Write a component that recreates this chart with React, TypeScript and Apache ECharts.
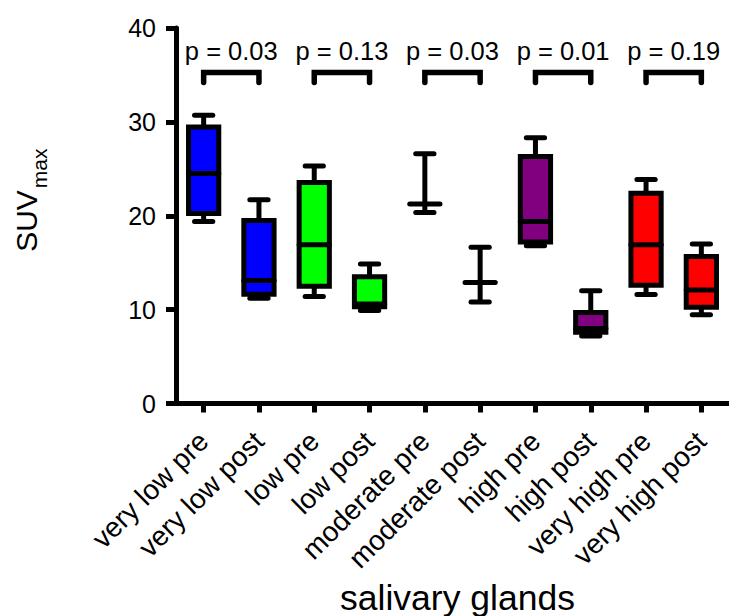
import React, { useEffect, useRef } from "react";
import * as echarts from "echarts";

const categories = [
  "very low pre", "very low post", "low pre", "low post", "moderate pre",
  "moderate post", "high pre", "high post", "very high pre", "very high post",
];
const mins = [19.4, 11.2, 11.4, 9.9, 20.35, 10.8, 16.8, 7.2, 11.6, 9.45];
const q1s = [20.25, 11.65, 12.5, 10.3, 21.25, 12.9, 17.2, 7.6, 12.6, 10.25];
const medians = [24.5, 13.1, 16.9, 10.6, 21.25, 12.9, 19.4, 8.0, 16.9, 12.1];
const q3s = [29.45, 19.5, 23.55, 13.5, 21.25, 12.9, 26.3, 9.7, 22.4, 15.65];
const maxs = [30.7, 21.7, 25.3, 14.85, 26.6, 16.65, 28.3, 12.0, 23.85, 17.0];
const boxColors = [
  "#0000ff", "#0000ff", "#00ff00", "#00ff00", "#800080",
  "#800080", "#800080", "#800080", "#ff0000", "#ff0000",
];

const pairStarts = [0, 2, 4, 6, 8];
const pairEnds = [1, 3, 5, 7, 9];
const pLabels = ["p = 0.03", "p = 0.13", "p = 0.03", "p = 0.01", "p = 0.19"];
const bracketTop = 35.25;
const bracketLeg = 34.2;
const pTextY = 37.6;

const yTicks = [0, 10, 20, 30, 40];

const FONT = "'Liberation Sans', Arial, Helvetica, sans-serif";

export default function App() {
  const ref = useRef<HTMLDivElement>(null);
  useEffect(() => {
    if (!ref.current) return;
    const chart = echarts.init(ref.current, undefined, { renderer: "svg" });

    const boxData = categories.map((_, i) => [i, mins[i], q1s[i], medians[i], q3s[i], maxs[i]]);
    const bracketData = pairStarts.map((s, i) => [s, pairEnds[i], bracketTop, bracketLeg, pTextY, i]);

    const option: any = {
      animation: false,
      backgroundColor: "#ffffff",
      grid: { left: 176, top: 28, width: 566.7, height: 375.5 },
      xAxis: {
        type: "category",
        data: categories,
        boundaryGap: true,
        axisLine: { show: true, lineStyle: { color: "#000", width: 5 } },
        axisTick: { show: true, alignWithLabel: true, length: 9, lineStyle: { color: "#000", width: 5 } },
        axisLabel: {
          rotate: 45,
          interval: 0,
          margin: 33,
          color: "#000",
          fontSize: 28,
          fontFamily: FONT,
        },
        splitLine: { show: false },
      },
      yAxis: {
        type: "value",
        min: yTicks[0],
        max: yTicks[yTicks.length - 1],
        interval: 10,
        axisLine: { show: true, lineStyle: { color: "#000", width: 5 } },
        axisTick: { show: true, length: 10, lineStyle: { color: "#000", width: 5 } },
        axisLabel: { color: "#000", fontSize: 25, fontFamily: FONT, margin: 20 },
        splitLine: { show: false },
      },
      graphic: [
        {
          type: "text",
          x: 26.3,
          y: 221,
          rotation: Math.PI / 2,
          style: { text: "SUV", fontSize: 30, fontFamily: FONT, fill: "#000", align: "center", verticalAlign: "middle" },
        },
        {
          type: "text",
          x: 39.4,
          y: 168.3,
          rotation: Math.PI / 2,
          style: { text: "max", fontSize: 21, fontFamily: FONT, fill: "#000", align: "center", verticalAlign: "middle" },
        },
        {
          type: "text",
          x: 457.5,
          y: 598,
          style: { text: "salivary glands", fontSize: 35.5, fontFamily: FONT, fill: "#000", align: "center", verticalAlign: "middle" },
        },
      ],
      series: [
        {
          type: "custom",
          data: boxData,
          encode: { x: 0, y: [1, 2, 3, 4, 5] },
          clip: false,
          renderItem: (params: any, api: any) => {
            const idx = api.value(0);
            const band = api.size([1, 0])[0];
            const half = band * 0.2735;
            const capHalf = band * 0.165;
            const cx = api.coord([idx, 0])[0];
            const yMin = api.coord([idx, api.value(1)])[1];
            const yQ1 = api.coord([idx, api.value(2)])[1];
            const yMed = api.coord([idx, api.value(3)])[1];
            const yQ3 = api.coord([idx, api.value(4)])[1];
            const yMax = api.coord([idx, api.value(5)])[1];
            const lineStyle = { stroke: "#000", lineWidth: 5, lineCap: "round" };
            const children: any[] = [
              { type: "line", shape: { x1: cx, y1: yQ3, x2: cx, y2: yMax }, style: { ...lineStyle, lineCap: "butt" } },
              { type: "line", shape: { x1: cx, y1: yQ1, x2: cx, y2: yMin }, style: { ...lineStyle, lineCap: "butt" } },
            ];
            if (Math.abs(yQ1 - yQ3) > 0.5) {
              children.push({
                type: "rect",
                shape: { x: cx - half, y: yQ3, width: half * 2, height: yQ1 - yQ3 },
                style: { fill: boxColors[idx], stroke: "#000", lineWidth: 5 },
              });
            }
            children.push(
              { type: "line", shape: { x1: cx - half, y1: yMed, x2: cx + half, y2: yMed }, style: lineStyle },
              { type: "line", shape: { x1: cx - capHalf, y1: yMax, x2: cx + capHalf, y2: yMax }, style: lineStyle },
              { type: "line", shape: { x1: cx - capHalf, y1: yMin, x2: cx + capHalf, y2: yMin }, style: lineStyle },
            );
            return { type: "group", children };
          },
        },
        {
          type: "custom",
          data: bracketData,
          encode: { x: [0, 1], y: [2, 3, 4] },
          clip: false,
          renderItem: (params: any, api: any) => {
            const a = api.value(0);
            const b = api.value(1);
            const li = api.value(5);
            const [x0, yT] = api.coord([a, api.value(2)]);
            const [x1] = api.coord([b, api.value(2)]);
            const yL = api.coord([a, api.value(3)])[1];
            const yText = api.coord([a, api.value(4)])[1];
            return {
              type: "group",
              children: [
                {
                  type: "polyline",
                  shape: { points: [[x0, yL], [x0, yT], [x1, yT], [x1, yL]] },
                  style: { stroke: "#000", lineWidth: 5.5, lineCap: "round", lineJoin: "miter", fill: "none" },
                },
                {
                  type: "text",
                  style: {
                    text: pLabels[li],
                    x: (x0 + x1) / 2,
                    y: yText,
                    fill: "#000",
                    fontSize: 25.5,
                    fontFamily: FONT,
                    align: "center",
                    verticalAlign: "middle",
                  },
                },
              ],
            };
          },
        },
      ],
    };
    chart.setOption(option);
    return () => chart.dispose();
  }, []);

  return (
    <div
      ref={ref}
      style={{ position: "absolute", left: 0, top: 0, width: 729, height: 616, background: "#fff" }}
    />
  );
}
